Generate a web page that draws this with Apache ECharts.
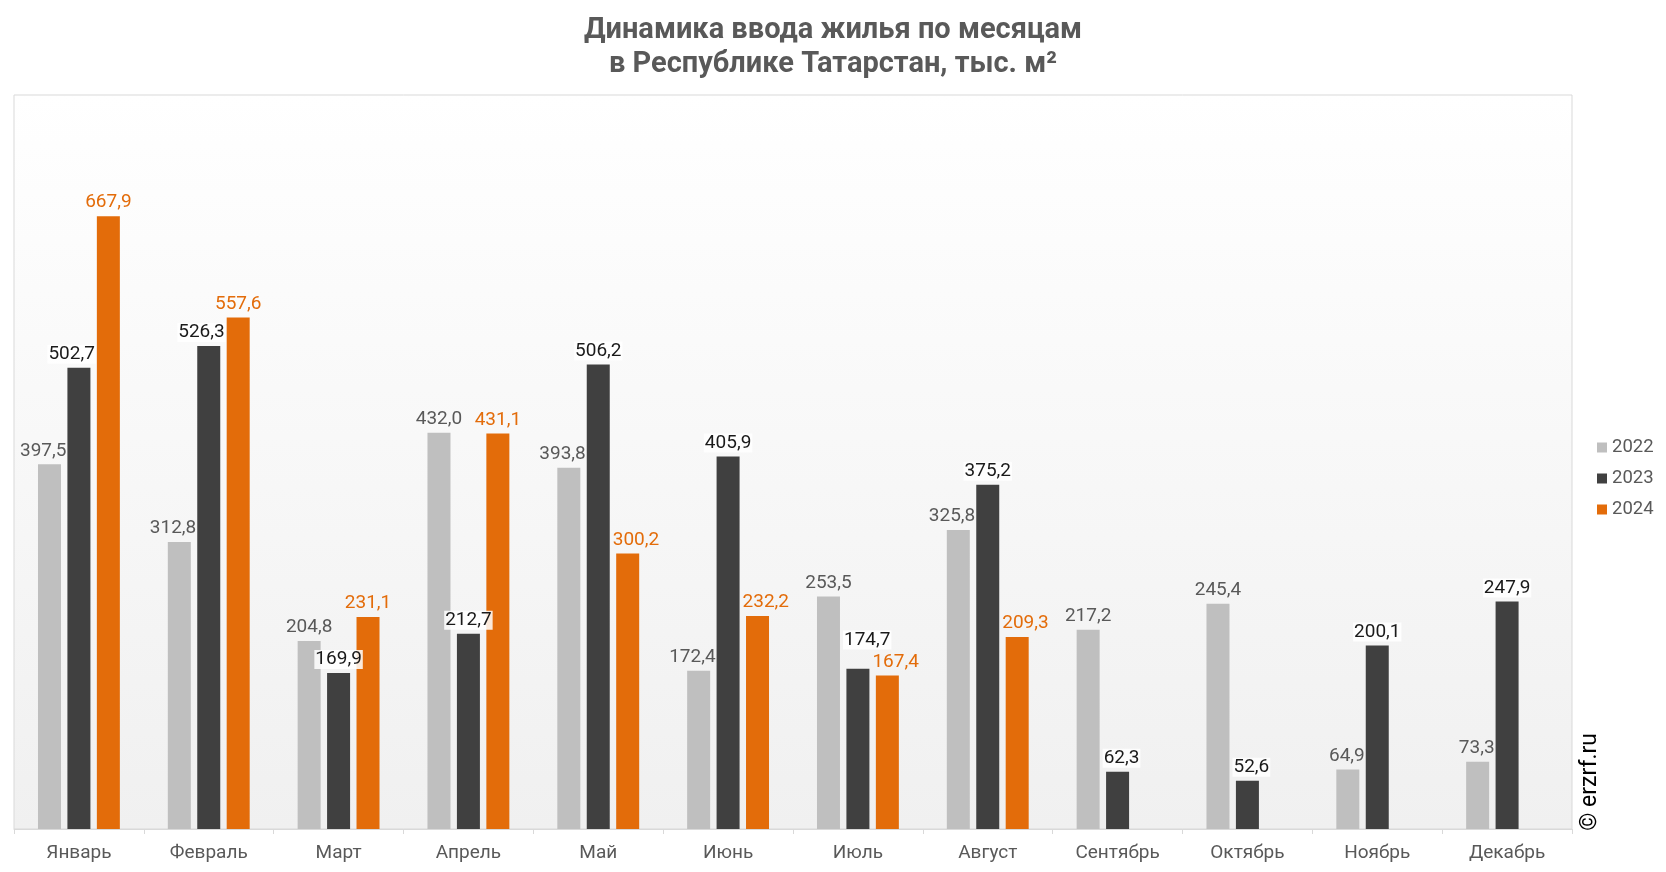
<!DOCTYPE html>
<html><head><meta charset="utf-8">
<script src="https://cdn.jsdelivr.net/npm/echarts@6/dist/echarts.min.js"></script>
<style>html,body{margin:0;padding:0;background:#fff;}#c{width:1666px;height:872px;}</style>
</head><body><div id="c"></div>
<script>
const categories = ['Январь','Февраль','Март','Апрель','Май','Июнь','Июль','Август','Сентябрь','Октябрь','Ноябрь','Декабрь'];
const seriesNames = ['2022','2023','2024'];
const values2022 = [397.5, 312.8, 204.8, 432.0, 393.8, 172.4, 253.5, 325.8, 217.2, 245.4, 64.9, 73.3];
const values2023 = [502.7, 526.3, 169.9, 212.7, 506.2, 405.9, 174.7, 375.2, 62.3, 52.6, 200.1, 247.9];
const values2024 = [667.9, 557.6, 231.1, 431.1, 300.2, 232.2, 167.4, 209.3, null, null, null, null];
const titleText = 'Динамика ввода жилья по месяцам\nв Республике Татарстан, тыс. м²';

const seriesVals = [values2022, values2023, values2024];
const colors = ['#bfbfbf', '#404040', '#e36c0a'];
const labelColors = ['#595959', '#1a1a1a', '#e36c0a'];
const fmt = p => p.value == null ? '' : p.value.toFixed(1).replace('.', ',');
const FONT = 'Roboto, "Noto Sans", sans-serif';
const BAR_GAP_RATIO = 0.28;

// Nudge labels sideways when a taller neighbouring bar would collide with them
function labelLayout(p) {
  const i = p.seriesIndex, j = p.dataIndex;
  const v = seriesVals[i][j];
  if (v == null || !p.rect || !p.labelRect) return {};
  const r = p.rect, lr = p.labelRect;
  const baseY = Math.max(r.y, r.y + r.height);
  const scale = Math.abs(r.height) / v;
  const bw = r.width, gap = bw * BAR_GAP_RATIO;
  const labelBottom = lr.y + lr.height;
  const blocks = k => {
    if (k < 0 || k > 2) return false;
    const w = seriesVals[k][j];
    if (w == null) return false;
    return baseY - w * scale < labelBottom;
  };
  const leftB = blocks(i - 1), rightB = blocks(i + 1);
  let dx = 0, dy = 0;
  if (rightB && !leftB) {
    dx = Math.min(0, (r.x + bw + gap - 1) - (lr.x + lr.width));
  } else if (leftB && !rightB) {
    dx = Math.max(0, (r.x - gap + 3) - lr.x);
  }
  if (i < 2) {
    const w = seriesVals[i + 1][j];
    if (w != null && w < v && (v - w) * scale < lr.height) {
      dy = -(lr.height - (v - w) * scale) - 3;
    }
  }
  return { dx: dx, dy: dy };
}

function mk(i, data) {
  const label = { show: true, position: 'top', distance: 4, formatter: fmt,
      color: labelColors[i], fontSize: 19, fontFamily: FONT };
  if (i === 1) { label.backgroundColor = 'rgba(255,255,255,0.85)'; label.padding = [0, 1]; }
  return {
    name: seriesNames[i], type: 'bar', data: data,
    barWidth: 23, barGap: (BAR_GAP_RATIO * 100) + '%',
    itemStyle: { color: colors[i] },
    label: label,
    labelLayout: labelLayout,
    emphasis: { disabled: true }
  };
}

const chart = echarts.init(document.getElementById('c'), null, { renderer: 'canvas' });
chart.setOption({
  animation: false,
  textStyle: { fontFamily: FONT },
  title: { text: titleText, left: 828, top: 9, textAlign: 'center',
    textStyle: { fontSize: 29, fontWeight: 'bold', color: '#595959', lineHeight: 34, fontFamily: FONT } },
  legend: { orient: 'vertical', left: 1592, top: 433, itemWidth: 10, itemHeight: 10, itemGap: 12,
    icon: 'rect', textStyle: { fontSize: 18.5, color: '#595959', fontFamily: FONT }, selectedMode: false },
  grid: { left: 14, right: 94, top: 95, bottom: 43, show: true, borderColor: '#d9d9d9', borderWidth: 1,
    backgroundColor: { type: 'linear', x: 0, y: 0, x2: 0, y2: 1,
      colorStops: [{ offset: 0, color: '#ffffff' }, { offset: 1, color: '#f0f0f0' }] } },
  xAxis: { type: 'category', data: categories,
    axisLine: { lineStyle: { color: '#d9d9d9' } },
    axisTick: { show: true, length: 5, lineStyle: { color: '#d9d9d9' } },
    axisLabel: { color: '#595959', fontSize: 19, margin: 15, fontFamily: FONT } },
  yAxis: { type: 'value', min: 0, max: 800, show: false, splitLine: { show: false } },
  graphic: [{ type: 'text', left: 1579, top: 733, rotation: Math.PI / 2,
    style: { text: '© erzrf.ru', fontSize: 23, fill: '#000', fontFamily: FONT } }],
  series: [mk(0, values2022), mk(1, values2023), mk(2, values2024)]
});
</script></body></html>
